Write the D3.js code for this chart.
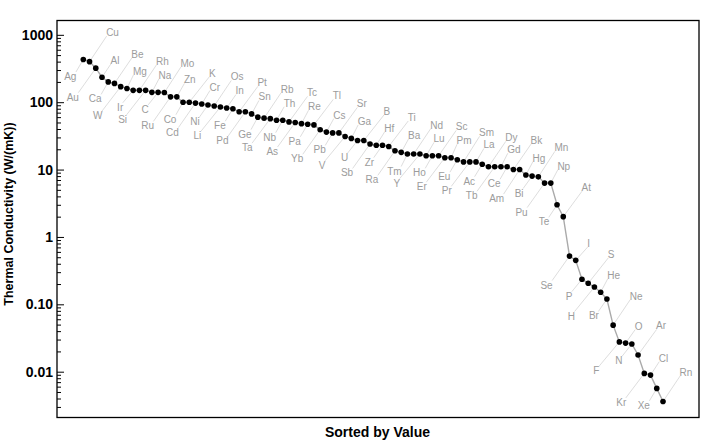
<!DOCTYPE html>
<html><head><meta charset="utf-8">
<script src="https://cdn.jsdelivr.net/npm/d3@7"></script>
<style>body{margin:0;background:#fff}svg{display:block}</style>
</head><body>
<svg id="chart" width="720" height="441"></svg>
<script>
const elements = ["Ag","Cu","Au","Al","Ca","Be","W","Mg","Ir","Rh","Si","Na","C","Mo","Ru","Zn","Co","K","Cd","Cr","Ni","Os","Li","In","Fe","Pt","Pd","Sn","Ge","Rb","Ta","Th","Nb","Tc","As","Re","Pa","Tl","Yb","Cs","Pb","Sr","V","Ga","U","B","Sb","Hf","Zr","Ti","Ra","Ba","Tm","Nd","Y","Lu","Ho","Sc","Er","Pm","Eu","Sm","Pr","La","Ac","Dy","Tb","Gd","Ce","Bk","Am","Hg","Bi","Mn","Pu","Np","Te","At","Se","I","P","S","H","He","Br","Ne","F","O","N","Ar","Kr","Cl","Xe","Rn"];
const conductivity = [430,400,320,235,200,190,170,160,150,150,150,140,140,139,120,120,100,100,97,94,91,88,85,82,80,72,72,67,60,58,57,54,54,51,50,48,47,46,39,36,35,35,31,29,27,27,24,23,23,22,19,18,17,17,17,16,16,16,15,15,14,13,13,13,12,11,11,11,11,10,10,8.3,8,7.8,6.3,6.3,3,2,0.52,0.449,0.236,0.205,0.1805,0.1513,0.12,0.0491,0.0277,0.02658,0.02583,0.01772,0.00943,0.0089,0.00565,0.00361];
const yTickValues = [1000,100,10,1,0.1,0.01];
const yTickLabels = ["1000","100","10","1","0.10","0.01"];
const xTitle = "Sorted by Value";
const yTitle = "Thermal Conductivity (W/(mK))";

const svg = d3.select("#chart");
const L = 57, R = 699, T = 20.5, B = 417.5;
const x = d3.scaleLinear().domain([0, elements.length - 1]).range([83.3, 663]);
const y = d3.scaleLog().domain([0.00209, 1631]).range([B, T]);

// minor ticks
const minor = [];
for (let e = -3; e <= 3; e++) for (let m = 2; m <= 9; m++) {
  const v = m * Math.pow(10, e);
  if (v > 0.00209 && v < 1631) minor.push(v);
}
svg.append("g").attr("transform", `translate(${L},0)`)
  .call(d3.axisLeft(y).tickValues(minor).tickSize(-4).tickFormat(""))
  .call(g => g.select(".domain").remove())
  .call(g => g.selectAll("line").attr("stroke", "#000").attr("stroke-width", 1));
svg.append("g").attr("transform", `translate(${L},0)`)
  .call(d3.axisLeft(y).tickValues(yTickValues).tickSize(-7).tickPadding(4)
    .tickFormat((d, i) => yTickLabels[i]))
  .call(g => g.select(".domain").remove())
  .call(g => g.selectAll("line").attr("stroke", "#000").attr("stroke-width", 1))
  .call(g => g.selectAll("text").attr("font-family", "Liberation Sans, Arial, sans-serif")
    .attr("font-weight", "bold").attr("font-size", 14).attr("fill", "#000"));

// frame
svg.append("rect").attr("x", L).attr("y", T).attr("width", R - L).attr("height", B - T)
  .attr("fill", "none").attr("stroke", "#000").attr("stroke-width", 1.3);

// titles
svg.append("text").attr("x", 377.5).attr("y", 437).attr("text-anchor", "middle")
  .attr("font-family", "Liberation Sans, Arial, sans-serif").attr("font-weight", "bold")
  .attr("font-size", 14).text(xTitle);
svg.append("text").attr("transform", "translate(13,214) rotate(-90)").attr("text-anchor", "middle")
  .attr("font-family", "Liberation Sans, Arial, sans-serif").attr("font-weight", "bold")
  .attr("font-size", 12.5).text(yTitle);

// labels & leaders
const slots = ["nd", "fu", "fd", "nu"];
const offs = { fu: [23, -29], nu: [13, -17], nd: [-13, 17], fd: [-23, 29] };
const gLead = svg.append("g");
const gLab = svg.append("g");
elements.forEach((el, i) => {
  const px = x(i), py = y(conductivity[i]);
  const s = slots[i % 4];
  const [dx, dy] = offs[s];
  const cx = px + dx, cy = py + dy;
  const t = gLab.append("text").attr("x", cx).attr("y", cy + 3.5).attr("text-anchor", "middle")
    .attr("font-family", "Liberation Sans, Arial, sans-serif").attr("font-size", 10)
    .attr("fill", "#9c9c9c").text(el);
  const w = t.node().getComputedTextLength();
  let ex, ey;
  if (dy < 0) { ex = cx - w / 2 + 0.5; ey = cy + 3.5; }
  else { ex = cx + w / 2 - 0.5; ey = cy - 4.5; }
  gLead.append("line").attr("x1", px).attr("y1", py).attr("x2", ex).attr("y2", ey)
    .attr("stroke", "#d4d4d4").attr("stroke-width", 0.8);
});

// connecting line + points
svg.append("path").datum(conductivity)
  .attr("d", d3.line().x((d, i) => x(i)).y(d => y(d)))
  .attr("fill", "none").attr("stroke", "#aaa").attr("stroke-width", 1.4);
svg.append("g").selectAll("circle").data(conductivity).join("circle")
  .attr("cx", (d, i) => x(i)).attr("cy", d => y(d)).attr("r", 2.8).attr("fill", "#000");
</script>
</body></html>
